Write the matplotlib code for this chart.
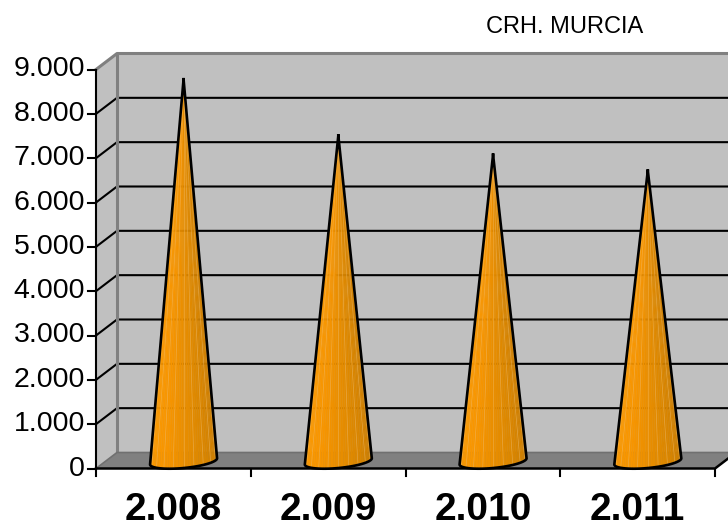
import numpy as np
import matplotlib
matplotlib.use('Agg')
import matplotlib.pyplot as plt
from matplotlib.colors import LinearSegmentedColormap

plt.rcParams['font.family'] = ['Liberation Sans', 'DejaVu Sans']

# chart data
years = ['2.008', '2.009', '2.010', '2.011']
values = [8780, 7510, 7080, 6720]
y_ticks = [0, 1000, 2000, 3000, 4000, 5000, 6000, 7000, 8000, 9000]
y_labels = ['0', '1.000', '2.000', '3.000', '4.000', '5.000', '6.000', '7.000', '8.000', '9.000']
title = 'CRH. MURCIA'

W, H = 728, 528
fig = plt.figure(figsize=(W / 100, H / 100), dpi=100, facecolor='white')
ax = fig.add_axes([96 / W, (H - 468.5) / H, 619 / W, 399 / H])
ax.set_xlim(0, 4)
ax.set_ylim(0, 9000)
ax.axis('off')

# 3d offset of the back wall, in data units
dx = 21 / 154.75
dy = 16 / 399 * 9000
top = 9000
right = 4

# walls and floor
ax.fill([dx, right + dx + 1, right + dx + 1, dx], [dy, dy, top + dy, top + dy],
        color='#c0c0c0', lw=0, clip_on=False, zorder=1)
ax.fill([0, dx, dx, 0], [0, dy, top + dy, top], color='#c0c0c0', lw=0, clip_on=False, zorder=1)
ax.fill([0, dx, right + dx, right], [0, dy, dy, 0], color='#808080', lw=0, clip_on=False, zorder=1)

# gridlines run along the side wall and then along the back wall
for t in y_ticks[1:-1]:
    ax.plot([0, dx, right + dx + 1], [t, t + dy, t + dy], color='black', lw=1.5,
            clip_on=False, zorder=2, solid_joinstyle='miter')

# grey edges of the walls
ax.plot([0, dx, right + dx + 1], [top, top + dy, top + dy], color='#808080', lw=2.2, clip_on=False, zorder=3)
ax.plot([dx, dx], [dy, top + dy], color='#808080', lw=2.2, clip_on=False, zorder=3)
ax.plot([0, dx, right + dx + 1], [0, dy, dy], color='#707070', lw=1.2, clip_on=False, zorder=3)

# axis lines and ticks
ax.plot([0, 0], [0, top], color='black', lw=1.5, clip_on=False, zorder=4)
ax.plot([0, right, right + dx], [0, 0, dy], color='black', lw=1.8, clip_on=False, zorder=4)
for t in y_ticks:
    ax.plot([-0.052, 0], [t, t], color='black', lw=1.5, clip_on=False, zorder=4)
for i in range(len(years) + 1):
    ax.plot([i, i], [0, -180], color='black', lw=1.5, clip_on=False, zorder=4)

# cones
cone_map = LinearSegmentedColormap.from_list('cone', ['#ff9b00', '#f79500', '#dd8800', '#c87a00'])
half_w = 33.5 / 154.75
for i, v in enumerate(values):
    cx = i + 0.5 + dx / 2 - 0.002
    base = dy / 2
    t = np.linspace(np.pi, 2 * np.pi, 41)
    bx = cx + half_w * np.cos(t)
    # lower half of the base ellipse, a bit tilted upward to the right
    by = base + 150 * np.sin(t) + (np.cos(t) * 70) - 20
    for k in range(len(t) - 1):
        shade = cone_map((k + 0.5) / (len(t) - 1))
        ax.fill([cx, bx[k], bx[k + 1]], [v, by[k], by[k + 1]], color=shade, lw=0.3, zorder=5, clip_on=False)
    # light streaks between the facets
    for k in range(4, len(t) - 1, 4):
        ax.plot([cx, bx[k]], [v, by[k]], color='#f5c070', lw=0.5, alpha=0.5, zorder=5.5, clip_on=False)
    ax.plot(np.r_[cx, bx, cx], np.r_[v, by, v], color='black', lw=1.9, zorder=6, clip_on=False,
            solid_joinstyle='round')

# text
for t, lab in zip(y_ticks, y_labels):
    ax.text(-0.07, t, lab, ha='right', va='center', fontsize=20.5, color='black', clip_on=False)
for i, lab in enumerate(years):
    ax.text(i + 0.5, -1170, lab, ha='center', va='baseline', fontsize=28, fontweight='bold', clip_on=False)
fig.text(564.5 / W, 1 - 33 / H, title, ha='center', va='baseline', fontsize=17)

fig.savefig('out.png', dpi=100, facecolor='white')
